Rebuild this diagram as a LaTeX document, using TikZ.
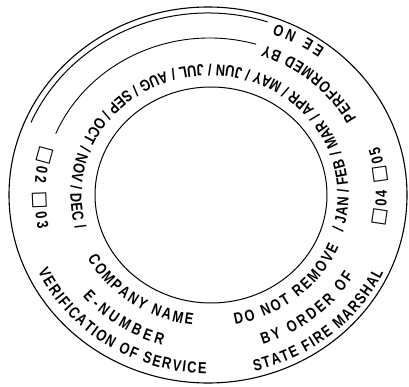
\documentclass[tikz,border=0pt]{standalone}
\usepackage{fontspec}
\setmainfont[FakeStretch=0.8]{Liberation Sans}
\newfontfamily\dvfont{DejaVu Sans}
\usetikzlibrary{decorations.text,calc}
\newcommand\lbl{\bfseries\fontsize{16}{18}\selectfont}
\newcommand\bx{\mdseries\dvfont\fontsize{19}{20}\selectfont}
% #1 start angle, #2 end angle, #3 y radius of baseline, #4 text
\newcommand\ringtext[4]{%
  \pgfmathsetmacro\rrx{1.065*#3}%
  \pgfmathsetmacro\ssx{\rrx*cos(#1)}%
  \pgfmathsetmacro\ssy{#3*sin(#1)}%
  \path[decorate,decoration={text along path,text align=fit to path,text={#4}}]
    ($(C)+(\ssx,\ssy)$) arc[start angle=#1,end angle=#2,x radius=\rrx,y radius=#3];%
}
\tikzset{ringline/.style={draw=black,line width=1pt}}
\begin{document}
\begin{tikzpicture}[x=1pt,y=1pt]
\useasboundingbox (0,0) rectangle (409,386);
\coordinate (C) at (209.5,191);
\coordinate (O) at (208,191);
\coordinate (I) at (211,191);
% rings
\draw[ringline,line width=1.1pt] (O) ellipse [x radius=199,y radius=188];
\draw[ringline] (I) ellipse [x radius=116,y radius=108];
\draw[ringline] ($(O)+(72:193 and 182)$) arc[start angle=72,end angle=156.5,x radius=193,y radius=182];
\draw[ringline,line width=0.9pt] ($(C)+(73.8:167 and 157)$) arc[start angle=73.8,end angle=157,x radius=167,y radius=157];
% texts
\ringtext{-16.5}{195.5}{130.5}{|\lbl|/ JAN / FEB / MAR / APR / MAY / JUN / JUL / AUG / SEP / OCT / NOV / DEC /}
\ringtext{29}{71}{158}{|\lbl|PERFORMED BY}
\ringtext{53.5}{70}{182}{|\lbl|EE NO}
\ringtext{162.5}{192}{164.5}{|\bx|□|\lbl|02 |\bx|□|\lbl|03}
\ringtext{-11}{17}{166.5}{|\bx|□|\lbl|04 |\bx|□|\lbl|05}
\ringtext{209}{263}{131}{|\lbl|COMPANY NAME}
\ringtext{220.5}{253.5}{156.5}{|\lbl|E-NUMBER}
\ringtext{205.5}{269}{178.5}{|\lbl|VERIFICATION OF SERVICE}
\ringtext{280.5}{337}{132}{|\lbl|DO NOT REMOVE}
\ringtext{288.5}{329}{158}{|\lbl|BY ORDER OF}
\ringtext{283.5}{334.5}{181}{|\lbl|STATE FIRE MARSHAL}
\end{tikzpicture}
\end{document}
